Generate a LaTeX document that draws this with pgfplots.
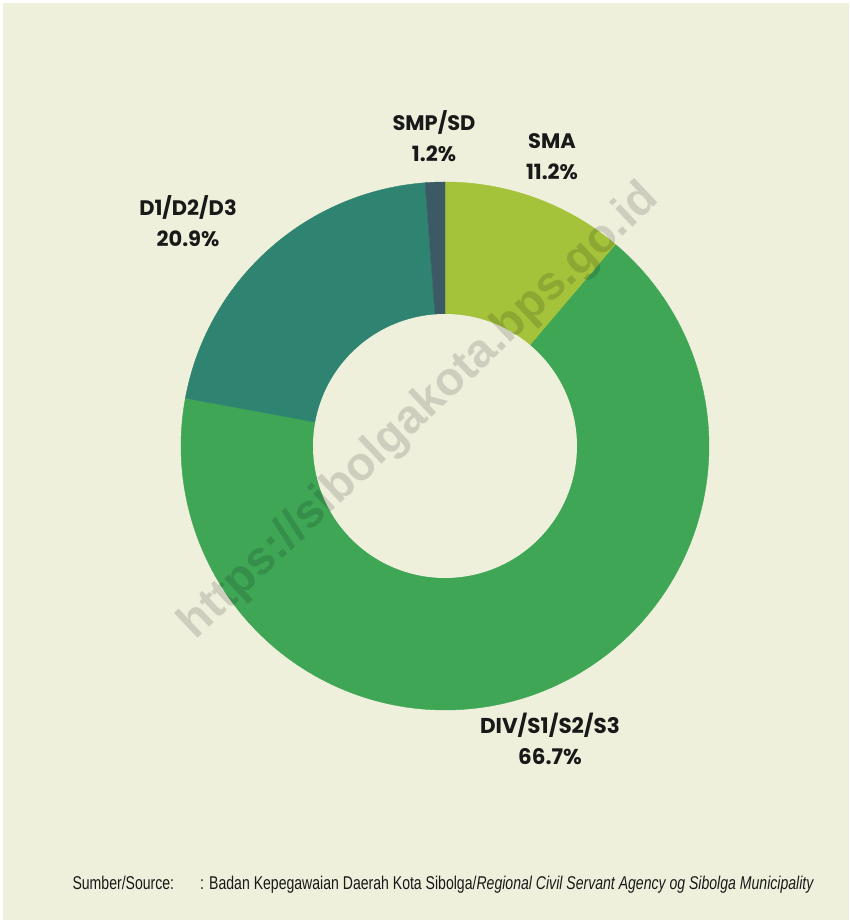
\documentclass[border=0pt]{standalone}
\usepackage{pgfplots}
\pgfplotsset{compat=1.18}
\usepackage{pgfplotstable}
\usepackage{fontspec}
\setmainfont{Liberation Sans}
\newfontfamily\pop{Poppins}
\newfontfamily\cond[FakeStretch=0.76]{Liberation Sans}

\definecolor{bg}{RGB}{239,240,220}
\definecolor{csma}{RGB}{164,195,59}
\definecolor{cdiv}{RGB}{62,166,85}
\definecolor{cdip}{RGB}{47,131,113}
\definecolor{csmp}{RGB}{59,90,102}
\definecolor{wm}{RGB}{220,219,221}

% share of civil servants by education, percent (clockwise from 12 o'clock)
\pgfplotstableread{
label pct
SMA   11.2
DIV   66.7
D1    20.9
SMP   1.2
}\shares

\pgfplotstablegetelem{0}{pct}\of\shares \let\pA\pgfplotsretval
\pgfplotstablegetelem{1}{pct}\of\shares \let\pB\pgfplotsretval
\pgfplotstablegetelem{2}{pct}\of\shares \let\pC\pgfplotsretval
\pgfplotstablegetelem{3}{pct}\of\shares \let\pD\pgfplotsretval
\pgfmathsetmacro\aA{90}
\pgfmathsetmacro\aB{\aA-3.6*\pA}
\pgfmathsetmacro\aC{\aB-3.6*\pB}
\pgfmathsetmacro\aD{\aC-3.6*\pC}
\pgfmathsetmacro\aE{\aD-3.6*\pD}

\def\cx{445}\def\cy{474}\def\Ro{264}\def\Ri{132}

\begin{document}
\begin{tikzpicture}
\begin{axis}[
    scale only axis, width=849pt, height=920pt,
    xmin=0, xmax=849, ymin=0, ymax=920,
    hide axis,
]
\fill[white] (axis cs:0,0) rectangle (axis cs:849,920);
\fill[bg] (axis cs:3,0) rectangle (axis cs:849,917);

\addplot[fill=csma, draw=csma, line width=0.4pt, domain=\aB:\aA, samples=60, variable=\t]
  ({\cx+\Ro*cos(\t)},{\cy+\Ro*sin(\t)}) -- (axis cs:\cx,\cy) -- cycle;
\addplot[fill=cdiv, draw=cdiv, line width=0.4pt, domain=\aC:\aB, samples=200, variable=\t]
  ({\cx+\Ro*cos(\t)},{\cy+\Ro*sin(\t)}) -- (axis cs:\cx,\cy) -- cycle;
\addplot[fill=cdip, draw=cdip, line width=0.4pt, domain=\aD:\aC, samples=80, variable=\t]
  ({\cx+\Ro*cos(\t)},{\cy+\Ro*sin(\t)}) -- (axis cs:\cx,\cy) -- cycle;
\addplot[fill=csmp, draw=csmp, line width=0.4pt, domain=\aE:\aD, samples=10, variable=\t]
  ({\cx+\Ro*cos(\t)},{\cy+\Ro*sin(\t)}) -- (axis cs:\cx,\cy) -- cycle;
% hole
\addplot[fill=bg, draw=none, domain=0:360, samples=160, variable=\t]
  ({\cx+\Ri*cos(\t)},{\cy+\Ri*sin(\t)}) -- cycle;

\begin{scope}[blend mode=multiply]
\node[rotate=43.4, text=wm, font=\bfseries\fontsize{47}{47}\selectfont]
  at (axis cs:420,508) {https://sibolgakota.bps.go.id};
\end{scope}

\tikzset{lab/.style={font=\pop\bfseries\fontsize{21}{31}\selectfont, align=center, text=black!90}}
\node[lab] at (axis cs:434,783.5) {SMP/SD\\1.2\%};
\node[lab] at (axis cs:552,763) {SMA\\11.2\%};
\node[lab] at (axis cs:188,699) {D1/D2/D3\\20.9\%};
\node[lab, font=\pop\bfseries\fontsize{21.5}{31}\selectfont] at (axis cs:550,181) {DIV/S1/S2/S3\\66.7\%};

\node[anchor=west, font=\cond\fontsize{18.5}{18.5}\selectfont, text=black!90] at (axis cs:69,35)
  {Sumber/Source:\hspace{26pt}: Badan Kepegawaian Daerah Kota Sibolga/\textit{Regional Civil Servant Agency og Sibolga Municipality}};
\end{axis}
\end{tikzpicture}
\end{document}
